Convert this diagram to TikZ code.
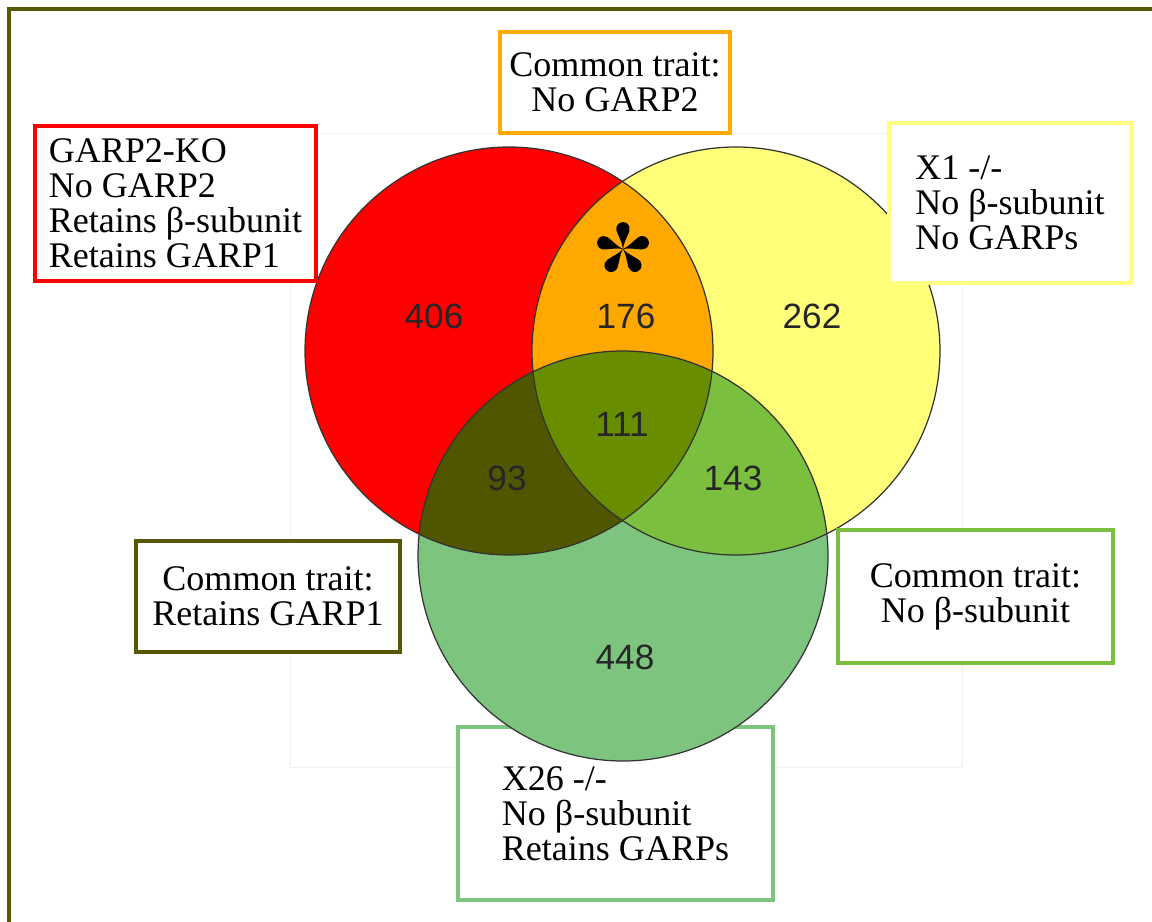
\documentclass[tikz,border=0pt]{standalone}
\usepackage{fontspec}
\setmainfont{Liberation Serif}
\newfontfamily\numfont{Liberation Sans}
\usepackage{xcolor}
\usepackage{tikz}
\usetikzlibrary{positioning}

\definecolor{frameolive}{RGB}{88,88,0}
\definecolor{vred}{RGB}{255,0,0}
\definecolor{vyellow}{RGB}{255,255,122}
\definecolor{vgreen}{RGB}{125,196,127}
\definecolor{vorange}{RGB}{255,168,0}
\definecolor{vdark}{RGB}{80,86,0}
\definecolor{vcentre}{RGB}{104,142,0}
\definecolor{vlime}{RGB}{122,192,62}
\definecolor{boxorange}{RGB}{255,170,0}
\definecolor{boxyellow}{RGB}{255,255,128}

\begin{document}
\begin{tikzpicture}[
  x=0.02cm, y=-0.02cm,
  trait/.style={rectangle, draw, line width=2pt, fill=white, inner sep=0pt,
                font=\fontsize{20.5}{20}\selectfont},
  count/.style={font=\numfont\fontsize{20}{20}\selectfont, text=black!85},
  rim/.style={draw=black!80, line width=0.7pt},
]
\useasboundingbox (0,0) rectangle (1152,922);

% outer frame (left and top only)
\draw[frameolive, line width=2.3pt] (9,922) -- (9,9) -- (1152,9);

% faint plot frame
\draw[black!6, line width=0.5pt] (290,133) rectangle (962,767);

\node[trait, draw=vgreen, align=left, minimum width=6.3cm, minimum height=3.46cm]
  (x26) at (615.5,813.5) {X26 -/-\\No β-subunit\\Retains GARPs};

% circles
\def\redc{(509,351) circle (204)}
\def\yelc{(736,351) circle (204)}
\def\grnc{(623,556) circle (205)}
\fill[vred] \redc;
\fill[vyellow] \yelc;
\fill[vgreen] \grnc;
\begin{scope}
  \clip \redc;
  \fill[vorange] \yelc;
  \fill[vdark] \grnc;
\end{scope}
\begin{scope}
  \clip \yelc;
  \fill[vlime] \grnc;
  \clip \redc;
  \fill[vcentre] \grnc;
\end{scope}
\draw[rim] \redc;
\draw[rim] \yelc;
\draw[rim] \grnc;

% counts
\node[count] (n406) at (434,316) {406};
\node[count] (n176) at (626,316) {176};
\node[count] (n262) at (812,316) {262};
\node[count] (n111) at (622,424) {111};
\node[count] (n93)  at (507,478) {93};
\node[count] (n143) at (733,478) {143};
\node[count] (n448) at (625,657) {448};

% asterisk mark, five teardrops
\coordinate (star) at (623,249);
\begin{scope}[shift={(star)}, scale=1.12]
  \foreach \a in {0,72,...,288}
    \fill[black, rotate=\a] (0,0) .. controls (-0.6,-6) and (-4,-11) .. (-5.66,-16)
      arc[start angle=160.53, end angle=379.47, radius=6]
      .. controls (4,-11) and (0.6,-6) .. (0,0);
\end{scope}

% labels
\node[trait, draw=vred, align=left, minimum width=5.62cm, minimum height=3.1cm]
  (ko) at (175.5,203.5) {GARP2-KO\\No GARP2\\Retains β-subunit\\Retains GARP1};
\node[trait, draw=boxorange, align=center, minimum width=4.6cm, minimum height=2.02cm]
  (ry) at (615,82.5) {Common trait:\\No GARP2};
\node[trait, draw=boxyellow, align=left, minimum width=4.84cm, minimum height=3.2cm]
  (x1) at (1010,203) {X1 -/-\\No β-subunit\\No GARPs};
\node[trait, draw=frameolive, align=center, minimum width=5.28cm, minimum height=2.22cm]
  (rg) at (268,596.5) {Common trait:\\Retains GARP1};
\node[trait, draw=vlime, align=center, minimum width=5.5cm, minimum height=2.66cm]
  (yg) at (975.5,596.5) {Common trait:\\No β-subunit};
\end{tikzpicture}
\end{document}
